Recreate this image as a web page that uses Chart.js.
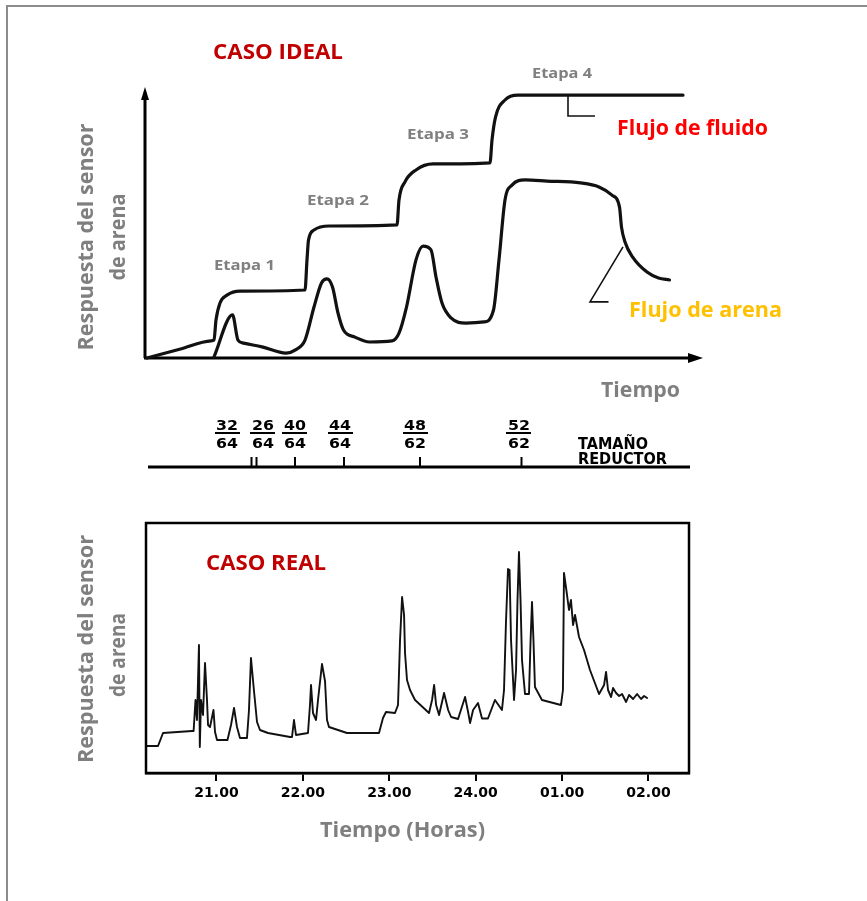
<!DOCTYPE html>
<html><head><meta charset="utf-8">
<script src="https://cdn.jsdelivr.net/npm/chart.js@4.4.1/dist/chart.umd.min.js"></script>
<style>
html,body{margin:0;padding:0;background:#fff;width:867px;height:901px;overflow:hidden;}
#page{position:relative;width:867px;height:901px;overflow:hidden;background:#fff;}
#frame{position:absolute;left:6px;top:5px;width:900px;height:950px;border-top:2px solid #8c8c8c;border-left:2px solid #8c8c8c;}
canvas{position:absolute;left:0;}
.t{position:absolute;white-space:nowrap;line-height:1;font-family:"Open Sans",sans-serif;font-weight:700;transform-origin:0 0;}
.bar{position:absolute;height:2px;background:#000;}
</style></head><body><div id="page"><div id="frame"></div>
<canvas id="ideal" width="867" height="400" style="top:0"></canvas>
<canvas id="reducer" width="867" height="100" style="top:400px"></canvas>
<canvas id="real" width="867" height="330" style="top:500px"></canvas>
</div>
<script>
// ---------- DATA ----------
// Ideal case (arbitrary time units, sensor response 0-100)
const fluidTime = [0,6.7,12.8,13.4,13.8,14.6,16.0,18.6,31.6,32.0,32.3,33.4,36.4,50.0,50.4,51.6,53.8,57.2,68.6,69.0,69.7,71.6,74.2,107.2];
const fluidResponse = [0,3.3,6.3,6.6,14.0,20.3,23.2,24.7,25.1,36.2,43.5,47.2,48.7,49.1,58.3,65.0,69.4,71.6,72.0,80.4,88.9,95.2,97.0,97.0];
const sandTime = [13.4,17.1,18.2,19.3,23.0,27.8,29.7,31.6,33.4,34.9,36.0,37.1,38.2,39.3,41.6,44.5,49.0,50.4,51.9,53.8,55.2,56.8,57.8,59.0,60.8,63.8,67.4,69.3,70.4,71.6,73.0,75.6,80.0,86.7,90.4,93.0,94.5,94.9,95.6,97.1,100.0,102.3,104.5];
const sandResponse = [0.4,15.9,6.6,5.5,4.1,1.8,3.0,6.6,18.8,27.7,29.2,26.2,16.6,10.3,7.7,5.9,6.3,9.2,18.8,36.2,41.3,39.9,29.9,20.3,14.8,12.9,13.3,17.7,36.2,58.3,63.8,65.7,65.3,64.6,63.1,60.1,55.7,48.3,42.8,37.3,31.7,29.5,28.8];
const fluidPointerTime = [84.2,84.2,89.6];
const fluidPointerResponse = [97.0,89.3,89.3];
const sandPointerTime = [95.2,88.6,92.3];
const sandPointerResponse = [41.0,20.7,20.7];

// Choke (reductor) changes, same time units as ideal case
const reducerTickTimes = [20.9,21.9,29.6,39.4,54.6,74.9];
const reducerLabelTimes = [16.0,23.1,29.5,38.6,53.6,74.3];
const reducerNumerators = ['32','26','40','44','48','52'];
const reducerDenominators = ['64','64','64','64','62','62'];

// Real case (hours, 24 = midnight)
const realHours = [20.196,20.323,20.381,20.716,20.735,20.757,20.774,20.797,20.807,20.821,20.844,20.867,20.890,20.902,20.925,20.965,20.983,21.006,21.127,21.168,21.203,21.237,21.272,21.353,21.376,21.399,21.434,21.469,21.503,21.596,21.851,21.874,21.897,21.920,22.059,22.082,22.094,22.117,22.152,22.175,22.221,22.256,22.279,22.302,22.510,22.881,22.927,22.962,23.066,23.101,23.124,23.148,23.171,23.182,23.205,23.240,23.298,23.460,23.495,23.519,23.542,23.576,23.634,23.681,23.715,23.796,23.877,23.912,23.935,23.970,24.027,24.073,24.142,24.223,24.304,24.328,24.351,24.374,24.392,24.409,24.444,24.467,24.484,24.501,24.519,24.536,24.571,24.617,24.635,24.652,24.669,24.686,24.767,24.987,25.010,25.022,25.051,25.080,25.103,25.127,25.150,25.196,25.254,25.323,25.428,25.486,25.509,25.532,25.567,25.590,25.625,25.660,25.694,25.741,25.775,25.822,25.868,25.914,25.949,25.984];
const realResponse = [10.8,10.8,16.0,16.8,16.8,29.2,21.2,51.2,10.4,29.2,23.2,44.0,29.2,19.2,18.4,25.2,16.4,13.2,13.2,19.2,26.0,18.4,14.0,14.0,25.2,46.0,32.8,20.4,17.2,16.0,14.4,14.4,21.2,15.2,16.0,27.2,35.2,24.0,21.2,29.2,43.6,36.8,21.2,18.4,16.0,16.0,22.0,24.4,24.0,27.2,52.8,70.4,63.2,48.0,37.2,33.2,29.2,24.0,29.2,35.2,27.2,23.2,32.0,25.2,22.4,21.6,30.4,24.4,20.0,25.2,28.0,21.8,21.8,29.2,25.2,33.2,60.8,81.6,81.2,53.2,29.2,41.2,69.2,88.4,69.2,45.2,31.6,31.6,52.8,68.4,52.8,34.4,29.2,27.2,33.2,80.0,72.8,65.2,69.2,59.2,63.2,54.4,49.2,41.2,31.6,35.2,40.4,33.2,30.4,34.0,32.0,30.8,31.6,28.4,31.2,29.6,31.6,29.6,30.8,30.0];
const realTickHours = [21,22,23,24,25,26];
const realTickLabels = ['21.00','22.00','23.00','24.00','01.00','02.00'];

// ---------- HELPERS ----------
const page = document.getElementById('page');
const pts = (xs, ys) => xs.map((x, i) => ({x, y: ys[i]}));
function label(text, o) {
  const el = document.createElement('div');
  el.className = 't';
  el.textContent = text;
  el.style.fontSize = o.size + 'px';
  el.style.color = o.color || '#7f7f7f';
  if (o.family) el.style.fontFamily = o.family;
  page.appendChild(el);
  const nat = el.getBoundingClientRect().width;
  const s = o.w ? o.w / nat : 1;
  if (o.rotate) {
    el.style.left = o.cx + 'px'; el.style.top = o.cy + 'px';
    el.style.transform = `rotate(-90deg) scale(${s},1) translate(-50%,-50%)`;
  } else {
    el.style.left = (o.x !== undefined ? o.x : o.cx) + 'px';
    el.style.top = o.cy + 'px';
    el.style.transform = `scale(${s},1) translate(${o.x !== undefined ? '0' : '-50%'},-50%)`;
  }
  return el;
}
Chart.defaults.font.family = '"Open Sans", sans-serif';

// ---------- IDEAL CHART ----------
const idealAxes = {
  id: 'idealAxes',
  beforeDatasetsDraw(chart) {
    const {ctx, chartArea: a} = chart;
    ctx.save();
    ctx.strokeStyle = '#000'; ctx.fillStyle = '#000'; ctx.lineWidth = 3;
    ctx.beginPath();
    ctx.moveTo(a.left, a.bottom); ctx.lineTo(a.left, a.top + 8);
    ctx.moveTo(a.left - 1, a.bottom); ctx.lineTo(a.right - 10, a.bottom);
    ctx.stroke();
    ctx.beginPath();
    ctx.moveTo(a.left, a.top); ctx.lineTo(a.left - 4, a.top + 13); ctx.lineTo(a.left + 4, a.top + 13); ctx.closePath(); ctx.fill();
    ctx.beginPath();
    ctx.moveTo(a.right, a.bottom); ctx.lineTo(a.right - 15, a.bottom - 5); ctx.lineTo(a.right - 15, a.bottom + 5); ctx.closePath(); ctx.fill();
    ctx.restore();
  }
};
const lineDs = (data, w, extra) => Object.assign({data, borderColor: '#111', borderWidth: w, pointRadius: 0, fill: false, clip: false, borderJoinStyle: 'round', borderCapStyle: 'round'}, extra || {});
new Chart(document.getElementById('ideal'), {
  type: 'line',
  data: {datasets: [
    lineDs(pts(fluidTime, fluidResponse), 3.2, {cubicInterpolationMode: 'monotone', label: 'Flujo de fluido'}),
    lineDs(pts(sandTime, sandResponse), 3.2, {cubicInterpolationMode: 'monotone', label: 'Flujo de arena'}),
    lineDs(pts(fluidPointerTime, fluidPointerResponse), 1.6, {tension: 0, borderJoinStyle: 'miter', borderCapStyle: 'butt'}),
    lineDs(pts(sandPointerTime, sandPointerResponse), 1.6, {tension: 0, borderJoinStyle: 'miter', borderCapStyle: 'butt'})
  ]},
  options: {
    responsive: false, animation: false, events: [],
    layout: {padding: {left: 145, right: 164, top: 87, bottom: 42}},
    scales: {
      x: {type: 'linear', min: -0.4, max: 111.2, display: false},
      y: {type: 'linear', min: 0, max: 100, display: false}
    },
    plugins: {legend: {display: false}, tooltip: {enabled: false}}
  },
  plugins: [idealAxes]
});

// ---------- REDUCER STRIP ----------
const reducerLine = {
  id: 'reducerLine',
  beforeDatasetsDraw(chart) {
    const {ctx, scales: {x, y}} = chart;
    ctx.save(); ctx.strokeStyle = '#000'; ctx.lineWidth = 3;
    ctx.beginPath(); ctx.moveTo(x.getPixelForValue(0.2), y.getPixelForValue(0)); ctx.lineTo(x.getPixelForValue(108.6), y.getPixelForValue(0)); ctx.stroke();
    ctx.restore();
  }
};
const reducerChart = new Chart(document.getElementById('reducer'), {
  type: 'scatter',
  data: {datasets: [{data: reducerTickTimes.map(t => ({x: t, y: 1})), pointStyle: 'line', rotation: 90, radius: 5, borderWidth: 2, borderColor: '#000', backgroundColor: '#000', clip: false}]},
  options: {
    responsive: false, animation: false, events: [],
    layout: {padding: {left: 145, right: 164, top: 17, bottom: 33}},
    scales: {
      x: {type: 'linear', min: -0.4, max: 111.2, display: false},
      y: {type: 'linear', min: 0, max: 10, display: false}
    },
    plugins: {legend: {display: false}, tooltip: {enabled: false}}
  },
  plugins: [reducerLine]
});
const rx = reducerChart.scales.x;
reducerLabelTimes.forEach((t, i) => {
  const px = rx.getPixelForValue(t);
  label(reducerNumerators[i], {cx: px, cy: 424.5, w: 22, size: 14, color: '#000', family: '"DejaVu Sans", sans-serif'});
  const b = document.createElement('div'); b.className = 'bar';
  b.style.left = (px - 12.5) + 'px'; b.style.top = '432px'; b.style.width = '25px';
  page.appendChild(b);
  label(reducerDenominators[i], {cx: px, cy: 442.5, w: 22, size: 14, color: '#000', family: '"DejaVu Sans", sans-serif'});
});

// ---------- REAL CHART ----------
const boxPlugin = {
  id: 'box',
  afterDraw(chart) {
    const {ctx, chartArea: a} = chart;
    ctx.save(); ctx.strokeStyle = '#000'; ctx.lineWidth = 2.5;
    ctx.strokeRect(a.left, a.top, a.right - a.left, a.bottom - a.top);
    ctx.restore();
  }
};
new Chart(document.getElementById('real'), {
  type: 'line',
  data: {datasets: [lineDs(pts(realHours, realResponse), 1.9, {tension: 0, label: 'Respuesta'})]},
  options: {
    responsive: false, animation: false, events: [],
    layout: {padding: {left: 146, right: 178, top: 23, bottom: 0}},
    scales: {
      x: {
        type: 'linear', min: 20.184, max: 26.469,
        afterBuildTicks: s => { s.ticks = realTickHours.map(v => ({value: v})); },
        afterFit: s => { s.height = 57; },
        ticks: {autoSkip: false, maxRotation: 0, padding: 4, color: '#000',
          font: {family: '"DejaVu Sans", sans-serif', weight: 'bold', size: 14},
          callback: (v, i) => realTickLabels[i]},
        grid: {display: true, drawOnChartArea: false, drawTicks: true, tickLength: 8, color: '#000', lineWidth: 2},
        border: {display: true, color: '#000', width: 2.5}
      },
      y: {type: 'linear', min: 0, max: 100, display: false}
    },
    plugins: {legend: {display: false}, tooltip: {enabled: false}}
  },
  plugins: [boxPlugin]
});

// ---------- TEXT ----------
const G = '#7f7f7f';
label('CASO IDEAL', {x: 213, cy: 50, w: 130, size: 22, color: '#C00000'});
label('Etapa 1', {x: 214, cy: 265, w: 61, size: 14, color: G});
label('Etapa 2', {x: 307, cy: 200, w: 62, size: 14, color: G});
label('Etapa 3', {x: 407, cy: 134, w: 62, size: 14, color: G});
label('Etapa 4', {x: 532, cy: 73, w: 60, size: 14, color: G});
label('Flujo de fluido', {x: 617, cy: 126, w: 151, size: 22, color: '#FF0000'});
label('Flujo de arena', {x: 629, cy: 308, w: 153, size: 22, color: '#FFC000'});
label('Tiempo', {x: 601, cy: 388, w: 79, size: 22, color: G});
label('Respuesta del sensor', {rotate: true, cx: 85, cy: 237, w: 227, size: 21, color: G});
label('de arena', {rotate: true, cx: 117, cy: 237, w: 87, size: 21, color: G});
label('TAMAÑO', {x: 578, cy: 443.5, w: 70, size: 15, color: '#000', family: '"DejaVu Sans", sans-serif'});
label('REDUCTOR', {x: 578, cy: 458.5, w: 89, size: 15, color: '#000', family: '"DejaVu Sans", sans-serif'});
label('CASO REAL', {x: 206, cy: 561, w: 120, size: 22, color: '#C00000'});
label('Respuesta del sensor', {rotate: true, cx: 85, cy: 649, w: 228, size: 21, color: G});
label('de arena', {rotate: true, cx: 117, cy: 655, w: 84, size: 21, color: G});
label('Tiempo (Horas)', {x: 320, cy: 828, w: 165, size: 22, color: G});
</script>
</body></html>
